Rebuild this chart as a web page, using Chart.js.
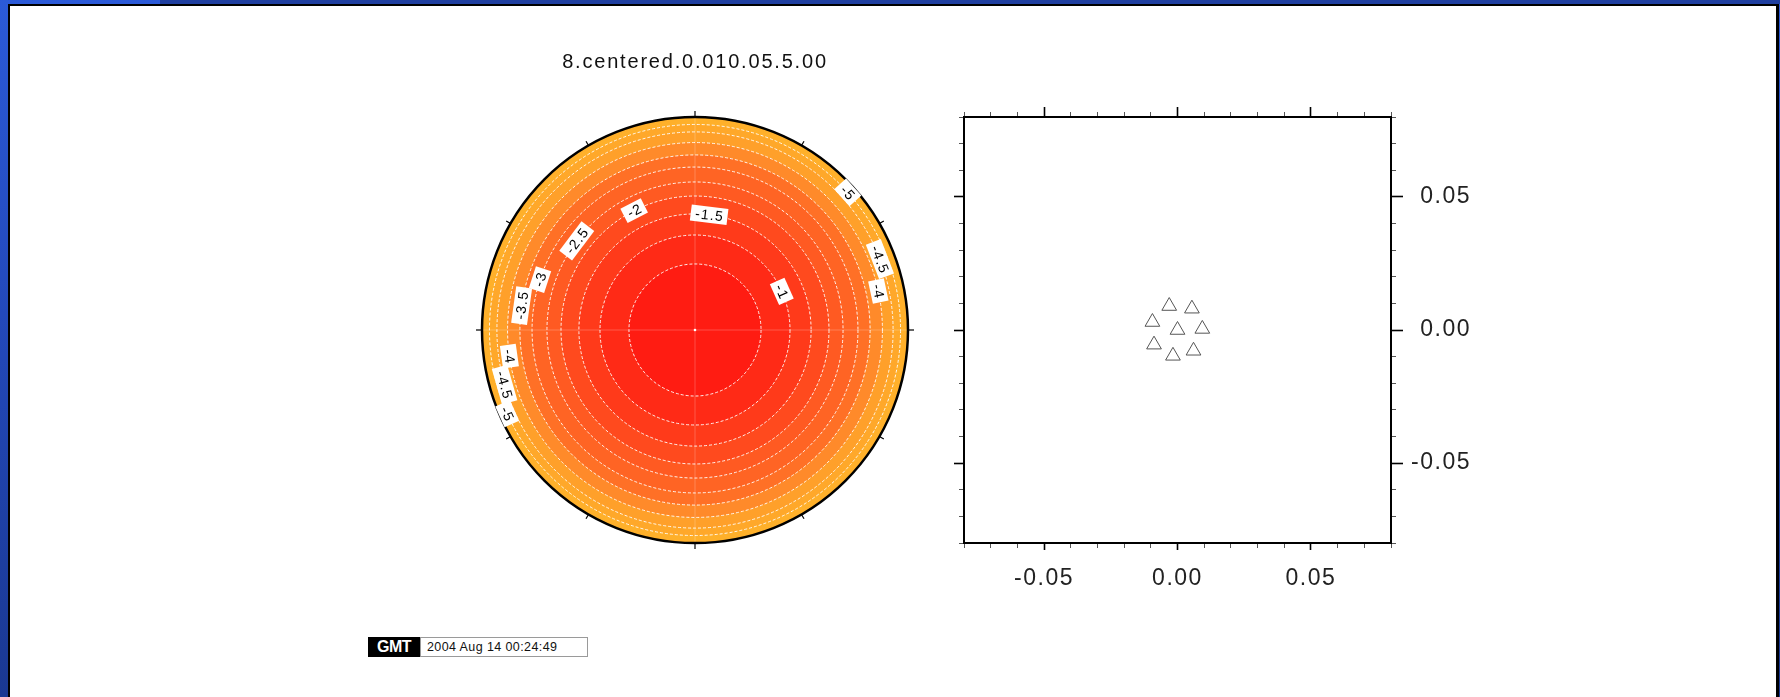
<!DOCTYPE html>
<html>
<head>
<meta charset="utf-8">
<title>8.centered.0.010.05.5.00</title>
<script src="https://cdn.jsdelivr.net/npm/chart.js@4/dist/chart.umd.min.js"></script>
<style>
  html, body { margin: 0; padding: 0; width: 1780px; height: 697px; overflow: hidden; }
  body { position: relative; background: linear-gradient(to bottom, #2b5ad8 0%, #2349bb 45%, #1a3892 100%); }
  #topbar { position: absolute; left: 160px; top: 0; width: 1620px; height: 4px; background: #1f3fa0; }
  #sheet { position: absolute; left: 8px; top: 4px; width: 1766px; height: 720px; background: #fff;
           border: 2px solid #000; border-right-width: 3px; }
  canvas { position: absolute; }
  #beam { left: 470px; top: 30px; }
  #array { left: 930px; top: 80px; }
  #stamp { position: absolute; left: 368px; top: 637px; height: 20px; display: flex;
           font-family: "Liberation Sans", Arial, Helvetica, sans-serif; }
  #stamp .gmt { background: #000; color: #fff; font-weight: bold; font-size: 16px; line-height: 20px;
                width: 52px; text-align: center; letter-spacing: -0.5px; }
  #stamp .time { background: #fff; border: 1px solid #9a9a9a; font-size: 12.5px; line-height: 18px;
                 width: 154px; padding: 0 6px; letter-spacing: 0.4px; color: #111; white-space: nowrap; }
</style>
</head>
<body>
<div id="topbar"></div>
<div id="sheet"></div>
<canvas id="beam" width="450" height="530"></canvas>
<canvas id="array" width="541" height="523"></canvas>
<div id="stamp"><span class="gmt">GMT</span><span class="time">2004 Aug 14 00:24:49</span></div>

<script>
// ---------- beam pattern (left panel) ----------
const plotTitle = '8.centered.0.010.05.5.00';

// contour levels and their radius as a fraction of the plot radius
const contourLevels = [-0.5, -1, -1.5, -2, -2.5, -3, -3.5, -4, -4.5, -5];
const contourRadius = [0.310, 0.446, 0.545, 0.629, 0.695, 0.765, 0.822, 0.880, 0.930, 0.965];

// fill colour of each band, innermost first (last band runs out to the rim)
const bandColors = ['#ff1c12', '#ff2a16', '#ff3a1a', '#ff4a1e', '#ff5a22', '#ff6424',
                    '#ff7026', '#ff8a2a', '#ffa02a', '#ffa82a', '#ffb02a'];
const rimRadius = 1;

// contour annotations: level and azimuth (degrees counter-clockwise from east)
const labelLevels = [-1, -1.5, -2, -2.5, -3, -3.5, -4, -4.5, -5, -5, -4.5, -4];
const labelAngles = [24, 83, 117, 143, 162, 172, 188, 196, 204, 42, 21, 12];

// ---------- station layout (right panel) ----------
const stationX = [-0.0031, 0.0054, -0.0094, 0.0000, 0.0093, -0.0088, -0.0017, 0.0060];
const stationY = [ 0.0090, 0.0080,  0.0030, 0.0000, 0.0004, -0.0055, -0.0097, -0.0078];
const axisMin = -0.08, axisMax = 0.08;
const minorStep = 0.01, majorStep = 0.05;

Chart.defaults.font.family = '"Liberation Sans", Arial, Helvetica, sans-serif';
Chart.defaults.color = '#111';

const spacing = (px) => ({
  id: 'letterSpacing',
  beforeUpdate(chart) { chart.ctx.letterSpacing = px; },
  beforeDraw(chart) { chart.ctx.letterSpacing = px; }
});

// rim of the polar plot: outline, azimuth ticks and centre mark
const rimPlugin = {
  id: 'rim',
  afterDraw(chart) {
    const s = chart.scales.r, ctx = chart.ctx;
    const R = s.getDistanceFromCenterForValue(rimRadius);
    ctx.save();
    ctx.letterSpacing = '0px';
    ctx.strokeStyle = '#000';
    ctx.lineWidth = 2.5;
    ctx.beginPath();
    ctx.arc(s.xCenter, s.yCenter, R, 0, Math.PI * 2);
    ctx.stroke();
    ctx.lineWidth = 1.2;
    for (let a = 0; a < 360; a += 30) {
      const t = a * Math.PI / 180, len = a % 90 === 0 ? 6 : 5;
      ctx.beginPath();
      ctx.moveTo(s.xCenter + R * Math.cos(t), s.yCenter - R * Math.sin(t));
      ctx.lineTo(s.xCenter + (R + len) * Math.cos(t), s.yCenter - (R + len) * Math.sin(t));
      ctx.stroke();
    }
    ctx.fillStyle = '#fff';
    ctx.beginPath();
    ctx.arc(s.xCenter, s.yCenter, 1.3, 0, Math.PI * 2);
    ctx.fill();
    ctx.restore();
  }
};

// boxed contour values laid along the contour lines
const contourLabelPlugin = {
  id: 'contourLabels',
  afterDraw(chart) {
    const s = chart.scales.r, ctx = chart.ctx;
    ctx.save();
    ctx.font = '14px "Liberation Sans", Arial, sans-serif';
    ctx.letterSpacing = '1.2px';
    ctx.textAlign = 'center';
    ctx.textBaseline = 'middle';
    labelLevels.forEach((lv, i) => {
      const k = contourLevels.indexOf(lv);
      const r = s.getDistanceFromCenterForValue(contourRadius[k]);
      const a = labelAngles[i] * Math.PI / 180;
      const x = s.xCenter + r * Math.cos(a);
      const y = s.yCenter - r * Math.sin(a);
      let rot = Math.atan2(-Math.cos(a), -Math.sin(a));
      if (rot > Math.PI / 2) rot -= Math.PI;
      if (rot < -Math.PI / 2) rot += Math.PI;
      const text = String(lv);
      const w = ctx.measureText(text).width + 8, h = 16;
      ctx.save();
      ctx.translate(x, y);
      ctx.rotate(rot);
      ctx.fillStyle = '#fff';
      ctx.fillRect(-w / 2, -h / 2, w, h);
      ctx.fillStyle = '#000';
      ctx.fillText(text, 0.6, 1);
      ctx.restore();
    });
    ctx.restore();
  }
};

const bandOuter = [...contourRadius, rimRadius];
const bandDatasets = bandOuter.map((r, i) => ({
  data: [r],
  backgroundColor: bandColors[i],
  borderWidth: 0,
  clip: false
}));

new Chart(document.getElementById('beam'), {
  type: 'polarArea',
  data: { labels: ['', '', '', ''], datasets: bandDatasets },
  options: {
    responsive: false,
    animation: false,
    events: [],
    layout: { padding: { left: 12, right: 12, top: 0, bottom: 17 } },
    plugins: {
      legend: { display: false },
      tooltip: { enabled: false },
      title: {
        display: true,
        text: plotTitle,
        color: '#111',
        font: { size: 20, weight: 'normal' },
        padding: { top: 20, bottom: 43 }
      }
    },
    scales: {
      r: {
        min: 0,
        max: rimRadius,
        ticks: { display: false },
        afterBuildTicks: (scale) => {
          scale.ticks = [0, ...contourRadius].map(v => ({ value: v }));
        },
        grid: { circular: true, color: 'rgba(255,255,255,0.9)', lineWidth: 1, z: 1 },
        border: { dash: [3, 2] },
        angleLines: { display: true, color: 'rgba(255,255,255,0.22)', lineWidth: 1 },
        pointLabels: { display: false }
      }
    }
  },
  plugins: [spacing('1.8px'), rimPlugin, contourLabelPlugin]
});

// ---------- station map ----------
const isMajor = (v) => { const q = v / majorStep; return Math.abs(q - Math.round(q)) < 1e-6; };
const fmt = (v) => (Math.abs(v) < 1e-9 ? 0 : v).toFixed(2);

function tickGrid(majorLen, outerFirst) {
  const major = (c) => !c.tick || isMajor(c.tick.value);
  return {
    drawOnChartArea: false,
    drawTicks: true,
    tickLength: majorLen,
    tickColor: (c) => major(c) ? '#000' : '#555',
    tickWidth: (c) => major(c) ? 1.6 : 1,
    tickBorderDash: (c) => major(c) ? [] : [4, 100],
    tickBorderDashOffset: (c) => (major(c) || !outerFirst) ? 0 : 104 - (majorLen - 5)
  };
}
const frame = { display: true, color: '#000', width: 2 };

new Chart(document.getElementById('array'), {
  type: 'scatter',
  data: {
    datasets: [{
      data: stationX.map((x, i) => ({ x, y: stationY[i] })),
      pointStyle: 'triangle',
      pointRadius: 8.5,
      pointBorderWidth: 1,
      pointBorderColor: '#555',
      pointBackgroundColor: 'rgba(255,255,255,0)',
      xAxisID: 'x',
      yAxisID: 'y'
    }]
  },
  options: {
    responsive: false,
    animation: false,
    events: [],
    layout: { padding: { left: 24, top: 27, right: 0, bottom: 0 } },
    plugins: { legend: { display: false }, tooltip: { enabled: false } },
    scales: {
      x: {
        type: 'linear', position: 'bottom', min: axisMin, max: axisMax,
        ticks: { stepSize: minorStep, autoSkip: false, maxRotation: 0, padding: 15,
                 font: { size: 23 }, color: '#222',
                 callback: (v) => isMajor(v) ? fmt(v) : '' },
        grid: tickGrid(7, false),
        border: frame,
        afterFit: (s) => { s.height = 60; }
      },
      xTop: {
        type: 'linear', position: 'top', min: axisMin, max: axisMax,
        ticks: { stepSize: minorStep, autoSkip: false, display: false },
        grid: tickGrid(10, true),
        border: frame
      },
      y: {
        type: 'linear', position: 'right', min: axisMin, max: axisMax,
        ticks: { stepSize: minorStep, autoSkip: false, padding: 4, crossAlign: 'far',
                 font: { size: 23 }, color: '#222',
                 callback: (v) => isMajor(v) ? fmt(v) : '' },
        grid: tickGrid(12, false),
        border: frame,
        afterFit: (s) => { s.width = 80; }
      },
      yLeft: {
        type: 'linear', position: 'left', min: axisMin, max: axisMax,
        ticks: { stepSize: minorStep, autoSkip: false, display: false },
        grid: tickGrid(10, true),
        border: frame
      }
    }
  },
  plugins: [spacing('1.5px')]
});
</script>
</body>
</html>
